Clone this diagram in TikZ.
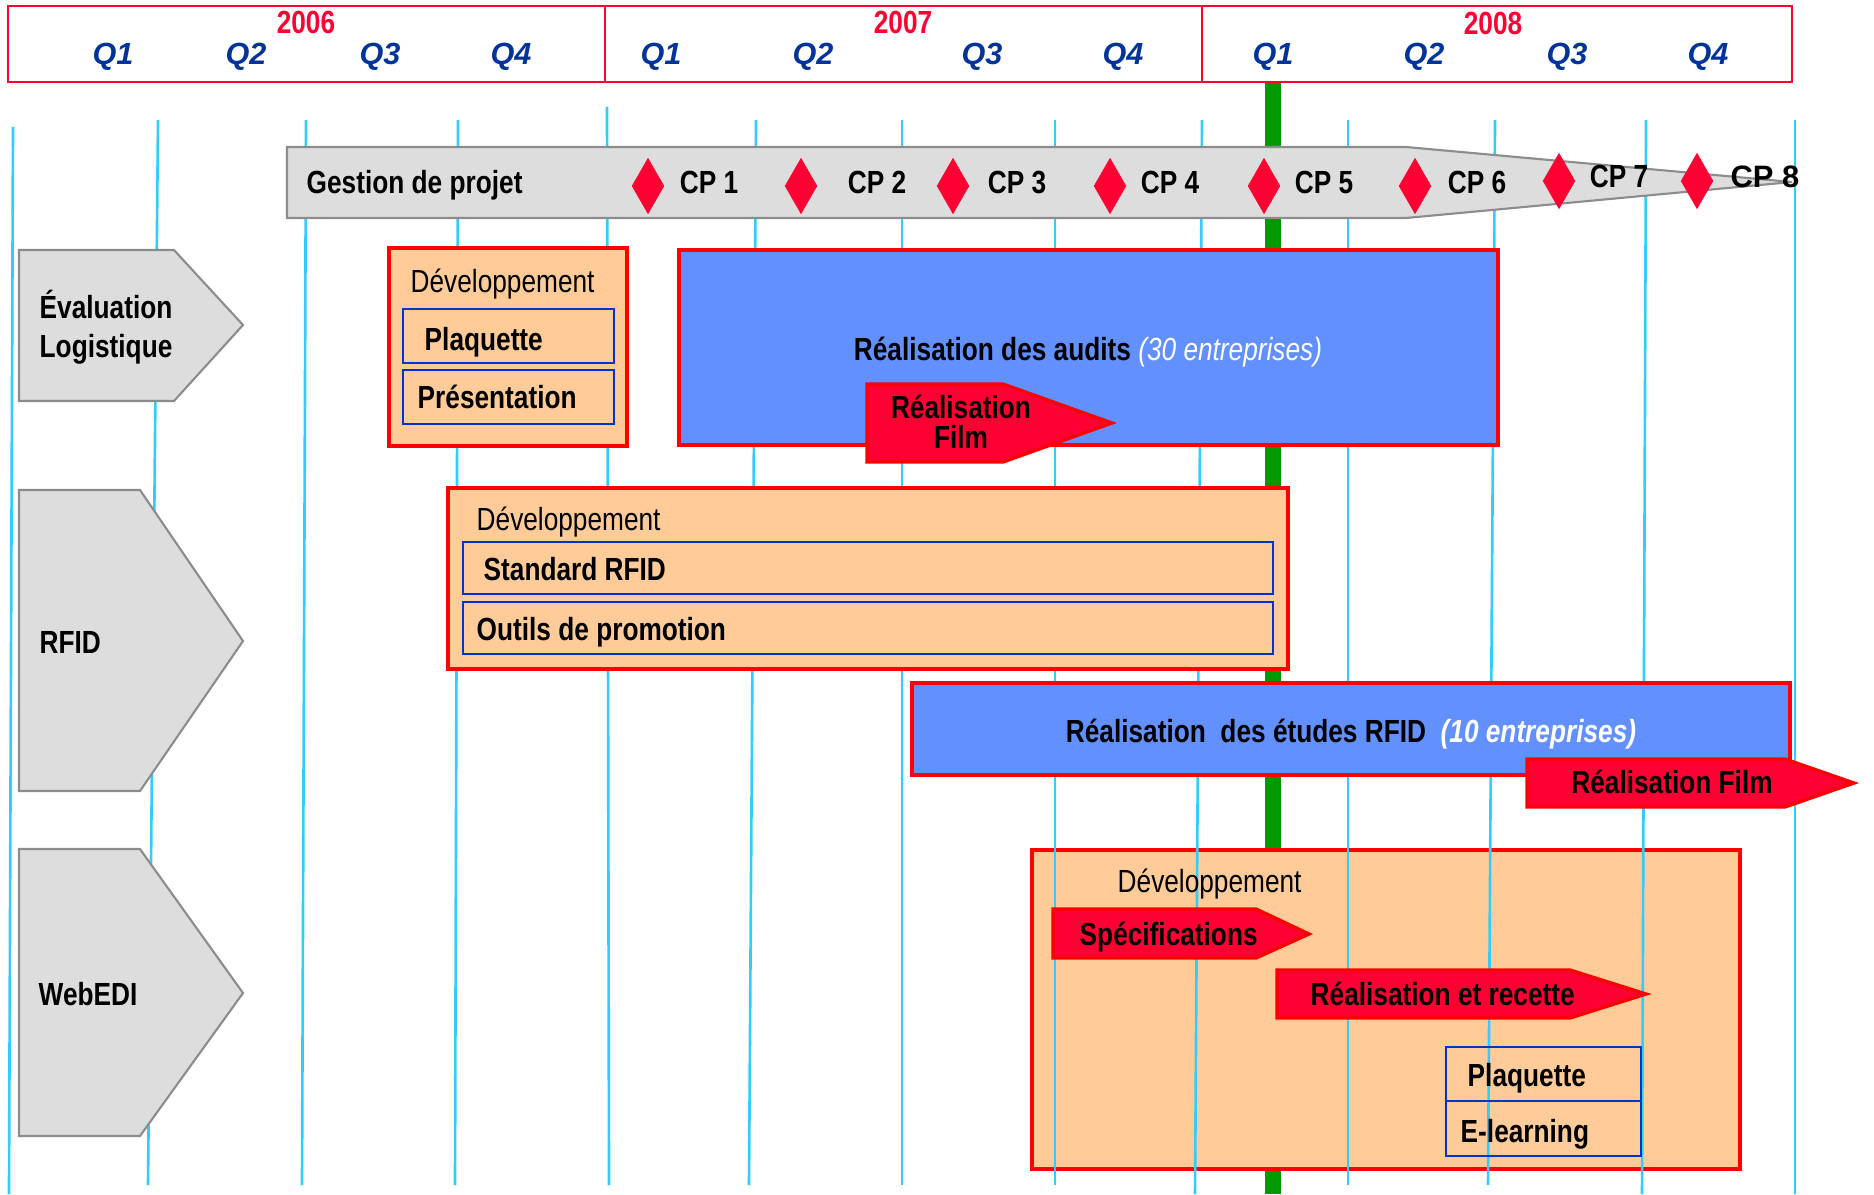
\documentclass[tikz,border=0pt]{standalone}
\usepackage{fontspec}
\setmainfont{Liberation Sans}
\newfontfamily\narrowfont[FakeStretch=0.82]{Liberation Sans}
\usetikzlibrary{shapes.geometric}

\definecolor{gridcyan}{HTML}{33CCFF}
\definecolor{yred}{HTML}{FF0033}
\definecolor{qblue}{HTML}{003399}
\definecolor{phgray}{HTML}{8C8C8C}
\definecolor{phfill}{HTML}{DDDDDD}
\definecolor{devorange}{HTML}{FFCC99}
\definecolor{subblue}{HTML}{0033CC}
\definecolor{bfill}{HTML}{6390FF}
\definecolor{tred}{HTML}{FF0033}
\definecolor{nowgreen}{HTML}{009900}

\begin{document}
\begin{tikzpicture}[
    x = 0.01cm,
    y = -0.01cm,
    lbl/.style = {
      inner sep = 0pt,
      font = \narrowfont\bfseries\fontsize{9.1}{11}\selectfont
    },
    dev/.style = {
      inner sep = 0pt,
      font = \narrowfont\fontsize{9.1}{11}\selectfont
    },
    qtr/.style = {
      inner sep = 0pt,
      text = qblue,
      font = \bfseries\itshape\fontsize{8.7}{10}\selectfont
    },
    yr/.style = {lbl, text = yred},
    grid/.style = {draw = gridcyan, line width = 0.75pt},
    phase/.style = {draw = phgray, fill = phfill, line width = 0.6pt},
    devbox/.style = {draw = red, fill = devorange, line width = 0.95pt},
    subbox/.style = {draw = subblue, line width = 0.65pt},
    bluebox/.style = {draw = red, fill = bfill, line width = 0.95pt},
    task/.style = {draw = red, fill = tred, line width = 0.95pt},
    cp/.style = {
      diamond,
      fill = tred,
      inner sep = 0pt,
      minimum width = 0.33cm,
      minimum height = 0.57cm
    }
  ]
  \useasboundingbox (0,0) rectangle (1874,1194);

  % today
  \draw[nowgreen, line width = 4.55pt] (1273,82) -- (1273,1194);

  \draw[devbox] (1032,850) rectangle (1740,1169);

  % quarter lines
  \foreach \xt/\xb/\yt/\yb in {13/9/127/1194, 158/148/120/1185,
      306/302/120/1185, 458/455/120/1185, 607/609/107/1185,
      756/749/120/1185, 902/902/120/1185, 1055/1055/120/1185,
      1202/1195/120/1194, 1348/1348/120/1185, 1495/1488/120/1185,
      1646/1642/120/1194, 1795/1795/120/1194}
    \draw[grid] (\xt,\yt) -- (\xb,\yb);

  % header
  \draw[yred, line width = 0.65pt] (8,6) rectangle (1792,82);
  \draw[yred, line width = 0.65pt] (605,6) -- (605,82);
  \draw[yred, line width = 0.65pt] (1202,6) -- (1202,82);

  \node[yr, anchor = base] (y2006) at (306,34) {2006};
  \node[yr, anchor = base] (y2007) at (903,34) {2007};
  \node[yr, anchor = base] (y2008) at (1493,35) {2008};

  \foreach \x/\q [count = \i] in {113/Q1, 246/Q2, 380/Q3, 511/Q4,
      661/Q1, 813/Q2, 982/Q3, 1123/Q4,
      1273/Q1, 1424/Q2, 1567/Q3, 1708/Q4}
    \node[qtr, anchor = base] (q\i) at (\x,65) {\q};

  % project management
  \draw[phase] (287,147) -- (1406,147) -- (1792,182) -- (1406,218)
    -- (287,218) -- cycle;
  \node[lbl, anchor = base west] (gestion) at (306,193) {Gestion de projet};

  \foreach \x/\y [count = \i] in {648/186, 801/186, 953/186, 1110/186,
      1264/186, 1415/186, 1559/181}
    \node[cp] (cp\i) at (\x,\y) {};
  \node[cp] (cp8) at (1697,181) {};

  \foreach \x/\y [count = \i] in {709/193, 877/193, 1017/193, 1170/193,
      1324/193, 1477/193, 1619/187}
    \node[lbl, anchor = base] (cpl\i) at (\x,\y) {CP \i};
  \node[lbl, anchor = base, font = \bfseries\fontsize{8.8}{10}\selectfont]
    (cpl8) at (1765,187) {CP 8};

  % work packages
  \draw[phase] (19,250) -- (174,250) -- (243,325) -- (174,401)
    -- (19,401) -- cycle;
  \draw[phase] (19,490) -- (140,490) -- (243,641) -- (140,791)
    -- (19,791) -- cycle;
  \draw[phase] (19,849) -- (140,849) -- (243,993) -- (140,1136)
    -- (19,1136) -- cycle;

  \node[lbl, anchor = base west] (eval) at (39,318) {Évaluation};
  \node[lbl, anchor = base west] (logi) at (39,357) {Logistique};
  \node[lbl, anchor = base west] (rfid) at (39,653) {RFID};
  \node[lbl, anchor = base west] (webedi) at (38,1005) {WebEDI};

  % evaluation logistique
  \draw[devbox] (389,248) rectangle (627,446);
  \node[dev, anchor = base west] (dev1) at (410,292) {Développement};
  \draw[subbox] (403,309) rectangle (614,363);
  \draw[subbox] (403,370) rectangle (614,424);
  \node[lbl, anchor = base west] (plaq1) at (424,350) {Plaquette};
  \node[lbl, anchor = base west] (pres) at (417,408) {Présentation};

  \draw[bluebox] (679,250) rectangle (1498,445);
  \node[lbl, anchor = base] (audits) at (1088,360)
    {Réalisation des audits \textcolor{white}{\mdseries\itshape(30 entreprises)}};

  \draw[task] (867,384) -- (1003,384) -- (1112,423) -- (1003,462)
    -- (867,462) -- cycle;
  \node[lbl, anchor = base] (film1a) at (961,418) {Réalisation};
  \node[lbl, anchor = base] (film1b) at (961,448) {Film};

  % rfid
  \draw[devbox] (448,488) rectangle (1288,669);
  \node[dev, anchor = base west] (dev2) at (476,530) {Développement};
  \draw[subbox] (463,542) rectangle (1273,594);
  \draw[subbox] (463,602) rectangle (1273,654);
  \node[lbl, anchor = base west] (std) at (483,580) {Standard RFID};
  \node[lbl, anchor = base west] (promo) at (476,640) {Outils de promotion};

  \draw[bluebox] (912,683) rectangle (1790,775);
  \node[lbl, anchor = base] (etudes) at (1351,742)
    {Réalisation\ \ des études RFID\ \ \textcolor{white}{\itshape(10 entreprises)}};

  \draw[task] (1527,759) -- (1785,759) -- (1854,783) -- (1785,807)
    -- (1527,807) -- cycle;
  \node[lbl, anchor = base] (film2) at (1672,793) {Réalisation Film};

  % webedi
  \node[dev, anchor = base west] (dev3) at (1117,892) {Développement};

  \draw[task] (1053,909) -- (1256,909) -- (1309,934) -- (1256,958)
    -- (1053,958) -- cycle;
  \node[lbl, anchor = base west] (spec) at (1079,945) {Spécifications};

  \draw[task] (1277,970) -- (1570,970) -- (1646,994) -- (1570,1018)
    -- (1277,1018) -- cycle;
  \node[lbl, anchor = base west] (recette) at (1310,1005) {Réalisation et recette};

  \draw[subbox] (1446,1047) rectangle (1641,1101);
  \draw[subbox] (1446,1101) rectangle (1641,1156);
  \node[lbl, anchor = base west] (plaq2) at (1467,1086) {Plaquette};
  \node[lbl, anchor = base west] (elearn) at (1460,1142) {E-learning};

\end{tikzpicture}
\end{document}
